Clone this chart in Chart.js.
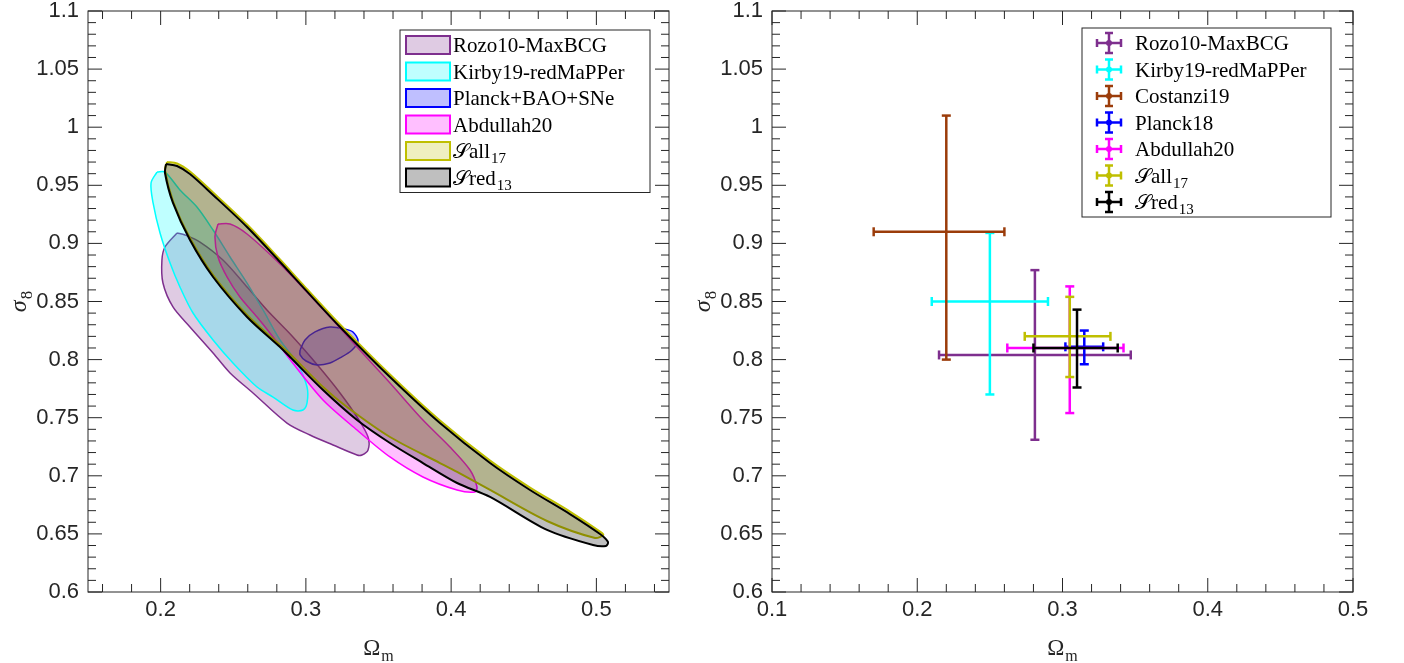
<!DOCTYPE html>
<html>
<head>
<meta charset="utf-8">
<script src="https://cdn.jsdelivr.net/npm/chart.js@4.4.1/dist/chart.umd.min.js"></script>
<style>
  html, body { margin: 0; padding: 0; background: #fff; }
  #wrap { position: relative; width: 1404px; height: 663px; overflow: hidden; }
  .panel { position: absolute; top: 0; height: 663px; }
</style>
</head>
<body>
<div id="wrap">
  <div class="panel" style="left:0;width:700px"><canvas id="left" width="700" height="663"></canvas></div>
  <div class="panel" style="left:680px;width:724px"><canvas id="right" width="724" height="663"></canvas></div>
</div>
<script>
// ---- left panel: confidence contours (Omega_m, sigma_8) ----
const rozoX = [0.2113,0.2030,0.2009,0.2016,0.2085,0.2202,0.2361,0.2478,0.2636,0.2870,0.3028,0.3187,0.3352,0.3386,0.3428,0.3428,0.3352,0.3235,0.3097,0.2911,0.2732,0.2595,0.2429,0.2271,0.2168,0.2113];
const rozoY = [0.9090,0.8969,0.8857,0.8659,0.8453,0.8281,0.8057,0.7885,0.7713,0.7454,0.7351,0.7265,0.7179,0.7179,0.7222,0.7334,0.7506,0.7713,0.7928,0.8195,0.8427,0.8625,0.8857,0.9012,0.9072,0.9090];

const kirbyX = [0.1975,0.2030,0.2133,0.2250,0.2361,0.2478,0.2595,0.2705,0.2822,0.2939,0.3008,0.3008,0.2980,0.2911,0.2774,0.2664,0.2498,0.2361,0.2223,0.2133,0.2065,0.1996,0.1948,0.1934,0.1975];
const kirbyY = [0.9614,0.9614,0.9460,0.9313,0.9115,0.8883,0.8659,0.8427,0.8169,0.7971,0.7764,0.7627,0.7566,0.7566,0.7678,0.7764,0.7971,0.8169,0.8401,0.8625,0.8831,0.9090,0.9348,0.9520,0.9614];

const planckX = [0.2960,0.2994,0.3063,0.3166,0.3269,0.3324,0.3359,0.3318,0.3235,0.3166,0.3077,0.3001,0.2960,0.2960];
const planckY = [0.8083,0.8169,0.8238,0.8281,0.8263,0.8238,0.8160,0.8083,0.8014,0.7971,0.7954,0.7988,0.8040,0.8083];

const abdullahX = [0.2395,0.2478,0.2595,0.2822,0.2994,0.3235,0.3352,0.3579,0.3806,0.3992,0.4130,0.4178,0.4164,0.4041,0.3806,0.3579,0.3352,0.3118,0.2904,0.2774,0.2664,0.2546,0.2457,0.2395,0.2374,0.2395];
const abdullahY = [0.9167,0.9167,0.9081,0.8823,0.8599,0.8272,0.8108,0.7799,0.7480,0.7248,0.7050,0.6904,0.6861,0.6878,0.6990,0.7162,0.7394,0.7652,0.7979,0.8195,0.8367,0.8539,0.8711,0.8883,0.9055,0.9167];

const sall17X = [0.2044,0.2113,0.2202,0.2361,0.2595,0.2822,0.2980,0.3235,0.3579,0.3923,0.4268,0.4543,0.4818,0.5025,0.5048,0.4991,0.4660,0.4268,0.4041,0.3923,0.3579,0.3283,0.3118,0.2891,0.2822,0.2595,0.2361,0.2202,0.2085,0.2030,0.2044];
const sall17Y = [0.9700,0.9688,0.9618,0.9438,0.9162,0.8861,0.8644,0.8302,0.7871,0.7475,0.7131,0.6899,0.6692,0.6520,0.6491,0.6465,0.6611,0.6878,0.7033,0.7110,0.7334,0.7592,0.7764,0.8048,0.8125,0.8384,0.8728,0.9047,0.9365,0.9632,0.9700];

const sred13X = [0.2037,0.2113,0.2202,0.2361,0.2595,0.2822,0.2980,0.3235,0.3579,0.3923,0.4268,0.4543,0.4818,0.5025,0.5080,0.5066,0.4977,0.4660,0.4268,0.4041,0.3806,0.3579,0.3352,0.3118,0.2891,0.2822,0.2595,0.2361,0.2202,0.2085,0.2030,0.2037];
const sred13Y = [0.9683,0.9666,0.9597,0.9417,0.9141,0.8840,0.8624,0.8281,0.7850,0.7454,0.7110,0.6878,0.6671,0.6499,0.6430,0.6396,0.6404,0.6534,0.6818,0.6938,0.7110,0.7282,0.7480,0.7738,0.8022,0.8108,0.8367,0.8711,0.9029,0.9348,0.9606,0.9683];

const contourNames = ['Rozo10-MaxBCG', 'Kirby19-redMaPPer', 'Planck+BAO+SNe', 'Abdullah20', '𝒮all_17', '𝒮red_13'];
const contourColors = ['#7E2F8E', '#00FFFF', '#0000FF', '#FF00FF', '#BFBF00', '#000000'];
const contourFills = ['rgba(126,47,142,0.25)', 'rgba(0,255,255,0.25)', 'rgba(0,0,255,0.25)', 'rgba(255,0,255,0.25)', 'rgba(191,191,0,0.25)', 'rgba(0,0,0,0.25)'];

// ---- right panel: 1-sigma error bars ----
const barNames = ['Rozo10-MaxBCG', 'Kirby19-redMaPPer', 'Costanzi19', 'Planck18', 'Abdullah20', '𝒮all_17', '𝒮red_13'];
const barColors = ['#7E2F8E', '#00FFFF', '#9B3C0A', '#0000FF', '#FF00FF', '#BFBF00', '#000000'];
const omegaM  = [0.281, 0.250, 0.220, 0.315, 0.305, 0.305, 0.310];
const omegaLo = [0.215, 0.210, 0.170, 0.302, 0.262, 0.274, 0.280];
const omegaHi = [0.347, 0.290, 0.260, 0.328, 0.342, 0.333, 0.338];
const sigma8  = [0.804, 0.850, 0.910, 0.811, 0.810, 0.820, 0.810];
const sigmaLo = [0.731, 0.770, 0.800, 0.796, 0.754, 0.785, 0.776];
const sigmaHi = [0.877, 0.909, 1.010, 0.825, 0.863, 0.854, 0.843];

const sigmaTicks = [0.6, 0.65, 0.7, 0.75, 0.8, 0.85, 0.9, 0.95, 1, 1.05, 1.1];
const leftOmegaTicks = [0.2, 0.3, 0.4, 0.5];
const rightOmegaTicks = [0.1, 0.2, 0.3, 0.4, 0.5];

const AXIS = '#262626';
const SERIF = '"Liberation Serif", "DejaVu Serif", serif';

// text like 'σ_8' -> main part + subscript
function drawRich(ctx, text, x, y, size, align) {
  const parts = text.split('_');
  const main = parts[0], sub = parts[1];
  const mainFont = (main.startsWith('σ') ? 'italic ' : '') + size + 'px ' + SERIF;
  const subFont = Math.round(size * 0.7) + 'px ' + SERIF;
  ctx.font = mainFont;
  const w1 = ctx.measureText(main).width;
  ctx.font = subFont;
  const w2 = sub ? ctx.measureText(sub).width + 1 : 0;
  const x0 = align === 'center' ? x - (w1 + w2) / 2 : x;
  ctx.textAlign = 'left';
  ctx.textBaseline = 'alphabetic';
  ctx.font = mainFont;
  ctx.fillText(main, x0, y);
  if (sub) {
    ctx.font = subFont;
    ctx.fillText(sub, x0 + w1 + 1, y + size * 0.25);
  }
}

// fill the closed contour using the line element's own path
const polyFill = {
  id: 'polyFill',
  beforeDatasetDraw(chart, args) {
    const ds = chart.data.datasets[args.index];
    if (!ds.polyFill) return;
    const ctx = chart.ctx;
    const line = args.meta.dataset;
    ctx.save();
    ctx.beginPath();
    if (line && typeof line.path === 'function') {
      line.path(ctx);
    } else {
      args.meta.data.forEach((p, k) => k ? ctx.lineTo(p.x, p.y) : ctx.moveTo(p.x, p.y));
    }
    ctx.closePath();
    ctx.fillStyle = ds.polyFill;
    ctx.fill();
    ctx.restore();
  }
};

// box with inward major/minor ticks on all four sides + axis titles
function framePlugin(xStep, yStep) {
  return {
    id: 'frame',
    afterDatasetsDraw(chart) {
      const { ctx, chartArea: a, scales: { x, y } } = chart;
      ctx.save();
      ctx.strokeStyle = AXIS;
      ctx.lineWidth = 1;
      ctx.beginPath();
      const k0 = Math.ceil(x.min / xStep - 1e-6), k1 = Math.floor(x.max / xStep + 1e-6);
      for (let k = k0; k <= k1; k++) {
        const px = x.getPixelForValue(k * xStep);
        const len = k % 5 === 0 ? 14 : 8;
        ctx.moveTo(px, a.bottom); ctx.lineTo(px, a.bottom - len);
        ctx.moveTo(px, a.top); ctx.lineTo(px, a.top + len);
      }
      const j0 = Math.ceil(y.min / yStep - 1e-6), j1 = Math.floor(y.max / yStep + 1e-6);
      for (let j = j0; j <= j1; j++) {
        const py = y.getPixelForValue(j * yStep);
        const len = j % 5 === 0 ? 14 : 8;
        ctx.moveTo(a.left, py); ctx.lineTo(a.left + len, py);
        ctx.moveTo(a.right, py); ctx.lineTo(a.right - len, py);
      }
      ctx.stroke();
      ctx.strokeRect(a.left, a.top, a.right - a.left, a.bottom - a.top);
      ctx.fillStyle = AXIS;
      drawRich(ctx, 'Ω_m', (a.left + a.right) / 2, 655, 23, 'center');
      ctx.translate(a.left - 62, (a.top + a.bottom) / 2);
      ctx.rotate(-Math.PI / 2);
      drawRich(ctx, 'σ_8', 0, 0, 24, 'center');
      ctx.restore();
    }
  };
}

// legend drawn inside the plot area, top-right
function legendPlugin(names, colors, fills, inset, topInset, boxW) {
  return {
    id: 'richLegend',
    afterDraw(chart) {
      const { ctx, chartArea: a } = chart;
      const rowH = 26.5, pad = 15;
      const bx = a.right - inset - boxW, by = a.top + topInset;
      const bh = pad * 2 + rowH * (names.length - 1);
      ctx.save();
      ctx.fillStyle = '#fff';
      ctx.fillRect(bx, by, boxW, bh);
      ctx.strokeStyle = AXIS;
      ctx.lineWidth = 1;
      ctx.strokeRect(bx, by, boxW, bh);
      names.forEach((name, i) => {
        const cy = by + pad + i * rowH;
        if (fills) {
          ctx.fillStyle = fills[i];
          ctx.fillRect(bx + 6, cy - 9, 44, 18);
          ctx.strokeStyle = colors[i];
          ctx.lineWidth = 2;
          ctx.strokeRect(bx + 6, cy - 9, 44, 18);
        } else {
          const cx = bx + 27;
          ctx.strokeStyle = colors[i];
          ctx.lineWidth = 2.5;
          ctx.beginPath();
          ctx.moveTo(cx - 12, cy); ctx.lineTo(cx + 12, cy);
          ctx.moveTo(cx - 12, cy - 4); ctx.lineTo(cx - 12, cy + 4);
          ctx.moveTo(cx + 12, cy - 4); ctx.lineTo(cx + 12, cy + 4);
          ctx.moveTo(cx, cy - 10); ctx.lineTo(cx, cy + 10);
          ctx.moveTo(cx - 4, cy - 10); ctx.lineTo(cx + 4, cy - 10);
          ctx.moveTo(cx - 4, cy + 10); ctx.lineTo(cx + 4, cy + 10);
          ctx.stroke();
          ctx.fillStyle = colors[i];
          ctx.beginPath(); ctx.arc(cx, cy, 3, 0, Math.PI * 2); ctx.fill();
        }
        ctx.fillStyle = '#000';
        drawRich(ctx, name, bx + 53, cy + 7, 21, 'left');
      });
      ctx.restore();
    }
  };
}

function fmt(v) { return String(Math.round(v * 100) / 100); }

function axes(xMin, xMax, xTicks, yWidth) {
  const tickFont = { family: '"Liberation Sans", Arial, sans-serif', size: 22 };
  return {
    x: {
      type: 'linear', min: xMin, max: xMax,
      afterBuildTicks: s => { s.ticks = xTicks.map(v => ({ value: v })); },
      afterFit: s => { s.height = 71; s.paddingLeft = 0; s.paddingRight = 0; },
      grid: { display: false, drawTicks: false }, border: { display: false },
      ticks: { color: AXIS, font: tickFont, padding: 5, autoSkip: false, maxRotation: 0, callback: fmt }
    },
    y: {
      type: 'linear', min: 0.6, max: 1.1,
      afterBuildTicks: s => { s.ticks = sigmaTicks.map(v => ({ value: v })); },
      afterFit: s => { s.width = yWidth; s.paddingTop = 0; s.paddingBottom = 0; },
      grid: { display: false, drawTicks: false }, border: { display: false },
      ticks: { color: AXIS, font: tickFont, padding: 9, autoSkip: false, callback: fmt }
    }
  };
}

const baseOptions = {
  responsive: false, animation: false, devicePixelRatio: 1, events: [],
  plugins: { legend: { display: false }, tooltip: { enabled: false } }
};

// left chart
const contourSets = [[rozoX, rozoY], [kirbyX, kirbyY], [planckX, planckY], [abdullahX, abdullahY], [sall17X, sall17Y], [sred13X, sred13Y]];
new Chart(document.getElementById('left'), {
  type: 'scatter',
  data: {
    datasets: contourSets.map(([xs, ys], i) => ({
      label: contourNames[i],
      data: xs.map((x, k) => ({ x, y: ys[k] })),
      showLine: true,
      borderColor: contourColors[i],
      borderWidth: i >= 4 ? 2 : 1.5,
      polyFill: contourFills[i],
      pointRadius: 0,
      tension: 0.3,
      order: contourSets.length - i
    }))
  },
  options: Object.assign({}, baseOptions, {
    layout: { padding: { top: 11, right: 31, left: 0, bottom: 0 } },
    scales: axes(0.15, 0.55, leftOmegaTicks, 88)
  }),
  plugins: [polyFill, framePlugin(0.02, 0.01), legendPlugin(contourNames, contourColors, contourFills, 19, 19, 250)]
});

// right chart
new Chart(document.getElementById('right'), {
  type: 'scatter',
  data: {
    datasets: barNames.map((name, i) => ({
      label: name,
      data: [
        { x: omegaLo[i], y: sigma8[i] }, { x: omegaHi[i], y: sigma8[i] },
        { x: null, y: null },
        { x: omegaM[i], y: sigmaLo[i] }, { x: omegaM[i], y: sigmaHi[i] }
      ],
      showLine: true,
      spanGaps: false,
      borderColor: barColors[i],
      borderWidth: 2.5,
      pointStyle: 'line',
      pointRadius: 4.5,
      pointRotation: [90, 90, 0, 0, 0],
      pointBorderColor: barColors[i],
      pointBorderWidth: 2.5,
      order: barNames.length - i
    }))
  },
  options: Object.assign({}, baseOptions, {
    layout: { padding: { top: 11, right: 51, left: 0, bottom: 0 } },
    scales: axes(0.1, 0.5, rightOmegaTicks, 92)
  }),
  plugins: [framePlugin(0.02, 0.01), legendPlugin(barNames, barColors, null, 22, 17, 249)]
});
</script>
</body>
</html>
